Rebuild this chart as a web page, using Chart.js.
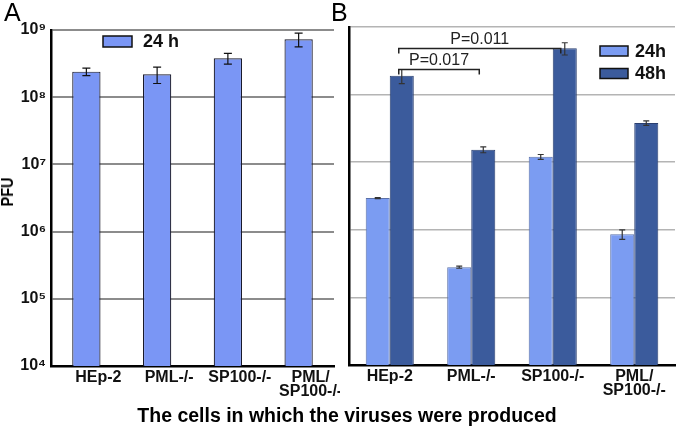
<!DOCTYPE html>
<html>
<head>
<meta charset="utf-8">
<script src="https://cdn.jsdelivr.net/npm/chart.js@4.4.1/dist/chart.umd.min.js"></script>
<style>
  body { margin: 0; background: #fff; width: 677px; height: 428px; position: relative; overflow: hidden; font-family: "Liberation Sans", Arial, sans-serif; }
  canvas { position: absolute; top: 0; }
  #chartA { left: 0; }
  #chartB { left: 335px; }
  .panel { position: absolute; font-size: 25px; top: -2px; }
  #xtitle { position: absolute; left: 0; width: 694px; top: 404px; text-align: center; font-weight: bold; font-size: 19.5px; }
  #ytitle { position: absolute; left: -9px; top: 182px; font-weight: bold; font-size: 17px; transform: rotate(-90deg) scaleX(0.85); }
</style>
</head>
<body>
<canvas id="chartA" width="340" height="428"></canvas>
<canvas id="chartB" width="342" height="428"></canvas>
<div class="panel" style="left:4px">A</div>
<div class="panel" style="left:331px">B</div>
<div id="ytitle">PFU</div>
<div id="xtitle">The cells in which the viruses were produced</div>
<script>
// cell lines
var categories = ["HEp-2", "PML-/-", "SP100-/-", ["PML/", "SP100-/-"]];
var yTicks = [1e4, 1e5, 1e6, 1e7, 1e8, 1e9];

// panel A, 24 h only
var a24 = [2.4e8, 2.2e8, 3.8e8, 7.3e8];
var a24Err = [0.3e8, 0.6e8, 0.7e8, 1.7e8];

// panel B
var b24 = [2.95e6, 2.8e5, 1.2e7, 8.6e5];
var b24Err = [0.05e6, 0.1e5, 0.1e7, 0.14e6];
var b48 = [1.9e8, 1.53e7, 4.85e8, 3.8e7];
var b48Err = [0.45e8, 0.15e7, 1.0e8, 0.3e7];

// significance brackets in panel B (48h bars)
var pBrackets = [
  { from: 0, to: 2, level: 4.9e8, text: "P=0.011" },
  { from: 0, to: 1, level: 2.43e8, text: "P=0.017" }
];

var sup = { "4": "\u2074", "5": "\u2075", "6": "\u2076", "7": "\u2077", "8": "\u2078", "9": "\u2079" };
function powLabel(v) {
  var e = Math.round(Math.log10(v));
  return "10" + sup[String(e)];
}

var errorBars = {
  id: "errorBars",
  afterDatasetsDraw: function (chart, args, opts) {
    var ctx = chart.ctx;
    var y = chart.scales.y;
    chart.data.datasets.forEach(function (ds, i) {
      if (!ds.err) return;
      var meta = chart.getDatasetMeta(i);
      meta.data.forEach(function (bar, j) {
        var v = ds.data[j], e = ds.err[j];
        var top = y.getPixelForValue(v + e);
        var bot = y.getPixelForValue(v - e);
        ctx.save();
        ctx.strokeStyle = opts.color;
        ctx.lineWidth = 1.2;
        ctx.beginPath();
        ctx.moveTo(bar.x, top); ctx.lineTo(bar.x, bot);
        ctx.moveTo(bar.x - opts.cap, top); ctx.lineTo(bar.x + opts.cap, top);
        ctx.moveTo(bar.x - opts.cap, bot); ctx.lineTo(bar.x + opts.cap, bot);
        ctx.stroke();
        ctx.restore();
      });
    });
  }
};

var boxLegend = {
  id: "boxLegend",
  afterDraw: function (chart, args, opts) {
    var ctx = chart.ctx;
    ctx.save();
    chart.data.datasets.forEach(function (ds, i) {
      var x = opts.x, y = opts.y + i * opts.gap;
      ctx.fillStyle = ds.backgroundColor;
      ctx.fillRect(x, y, opts.w, opts.h);
      ctx.strokeStyle = "#111";
      ctx.lineWidth = 1.5;
      ctx.strokeRect(x, y, opts.w, opts.h);
      ctx.fillStyle = "#111";
      ctx.font = "bold 18px 'Liberation Sans', Arial";
      ctx.textBaseline = "middle";
      ctx.fillText(ds.label, x + opts.w + opts.textGap, y + opts.h / 2 + 1);
    });
    ctx.restore();
  }
};

var brackets = {
  id: "brackets",
  afterDatasetsDraw: function (chart) {
    var ctx = chart.ctx;
    var y = chart.scales.y;
    var meta = chart.getDatasetMeta(1);
    ctx.save();
    ctx.strokeStyle = "#222";
    ctx.lineWidth = 1.5;
    ctx.fillStyle = "#222";
    ctx.font = "16px 'Liberation Sans', Arial";
    ctx.textAlign = "center";
    ctx.textBaseline = "bottom";
    pBrackets.forEach(function (b) {
      var x1 = meta.data[b.from].x - 3;
      var x2 = meta.data[b.to].x - 4;
      var yy = Math.round(y.getPixelForValue(b.level)) + 0.5;
      ctx.beginPath();
      ctx.moveTo(x1, yy + 5); ctx.lineTo(x1, yy); ctx.lineTo(x2, yy); ctx.lineTo(x2, yy + 5);
      ctx.stroke();
      ctx.fillText(b.text, (x1 + x2) / 2, yy - 1);
    });
    ctx.restore();
  }
};

function yScale(showLabels, gridColor, gridWidth, leftWidth) {
  return {
    type: "logarithmic",
    min: 1e4,
    max: 1e9,
    afterBuildTicks: function (s) { s.ticks = yTicks.map(function (v) { return { value: v }; }); },
    afterFit: function (s) { s.width = leftWidth; },
    grid: { color: gridColor, lineWidth: gridWidth, drawTicks: false },
    border: { color: "#000", width: 2.5 },
    ticks: {
      display: showLabels,
      padding: 5,
      color: "#111",
      font: { family: "'Liberation Sans', Arial", size: 16, weight: "bold" },
      callback: function (v) { return powLabel(v); }
    }
  };
}

function xScale(labelOffset) {
  return {
    afterFit: function (s) { s.height = 40; },
    grid: { display: false, drawTicks: false },
    border: { color: "#000", width: 2.5 },
    ticks: {
      color: "#111",
      padding: 5,
      labelOffset: labelOffset,
      maxRotation: 0,
      autoSkip: false,
      font: { family: "'Liberation Sans', Arial", size: 16, weight: "bold", lineHeight: 0.85 }
    }
  };
}

new Chart(document.getElementById("chartA"), {
  type: "bar",
  data: {
    labels: categories,
    datasets: [
      { label: "24 h", data: a24, err: a24Err, backgroundColor: "#7a96f5", borderColor: "#1a1a2a", borderWidth: 1.2, barPercentage: 0.4, categoryPercentage: 1 }
    ]
  },
  options: {
    responsive: false,
    animation: false,
    layout: { padding: { top: 30, right: 6, bottom: 22, left: 0 } },
    plugins: {
      legend: { display: false },
      tooltip: { enabled: false },
      errorBars: { color: "#111", cap: 4 },
      boxLegend: { x: 103, y: 36, w: 29, h: 11, gap: 23, textGap: 11 }
    },
    scales: { x: xScale(12), y: yScale(true, "#8c8c8c", 2, 51) }
  },
  plugins: [errorBars, boxLegend]
});

new Chart(document.getElementById("chartB"), {
  type: "bar",
  data: {
    labels: categories,
    datasets: [
      { label: "24h", data: b24, err: b24Err, backgroundColor: "#7b9cf2", borderColor: "#5a70a8", borderWidth: 1, barPercentage: 1, categoryPercentage: 0.59 },
      { label: "48h", data: b48, err: b48Err, backgroundColor: "#3b5b9c", borderColor: "#2a3f70", borderWidth: 1, barPercentage: 1, categoryPercentage: 0.59 }
    ]
  },
  options: {
    responsive: false,
    animation: false,
    layout: { padding: { top: 27, right: 2, bottom: 23, left: 0 } },
    plugins: {
      legend: { display: false },
      tooltip: { enabled: false },
      errorBars: { color: "#333", cap: 3 },
      boxLegend: { x: 265, y: 46, w: 28, h: 10, gap: 22.5, textGap: 7 }
    },
    scales: { x: xScale(0), y: yScale(false, "#b4b4b4", 1.5, 14) }
  },
  plugins: [errorBars, boxLegend, brackets]
});
</script>
</body>
</html>
